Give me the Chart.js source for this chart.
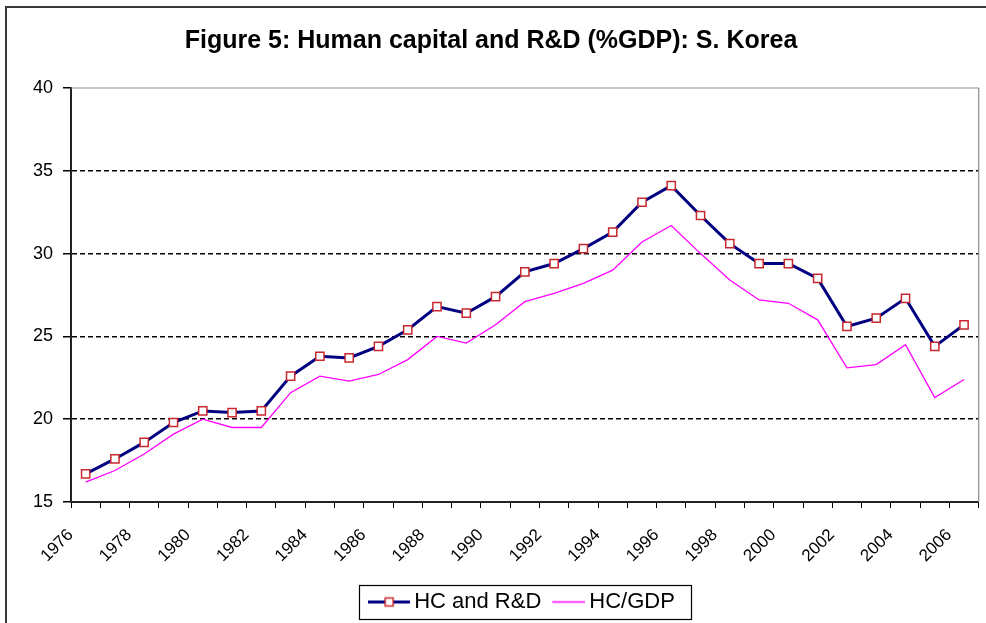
<!DOCTYPE html>
<html>
<head>
<meta charset="utf-8">
<script src="https://cdn.jsdelivr.net/npm/chart.js@4.4.1/dist/chart.umd.min.js"></script>
<style>
  html, body { margin: 0; padding: 0; background: #fff; overflow: hidden; }
  #wrap { position: relative; width: 986px; height: 623px; }
  #frame { position: absolute; left: 5px; top: 6px; width: 1000px; height: 700px; border: 2px solid #3a3a3a; box-sizing: border-box; }
  #chart { position: absolute; left: 0; top: 0; }
</style>
</head>
<body>
<div id="wrap">
  <div id="frame"></div>
  <canvas id="chart" width="986" height="623"></canvas>
</div>
<script>
// years on the category axis
const years = [
  '1976','1977','1978','1979','1980','1981','1982','1983','1984','1985','1986',
  '1987','1988','1989','1990','1991','1992','1993','1994','1995','1996',
  '1997','1998','1999','2000','2001','2002','2003','2004','2005','2006'
];

// HC and R&D (%GDP)
const hcRd = [
  16.7, 17.6, 18.6, 19.8, 20.5, 20.4, 20.5, 22.6, 23.8, 23.7, 24.4,
  25.4, 26.8, 26.4, 27.4, 28.9, 29.4, 30.3, 31.3, 33.1, 34.1,
  32.3, 30.6, 29.4, 29.4, 28.5, 25.6, 26.1, 27.3, 24.4, 25.7
];

// HC/GDP
const hcGdp = [
  16.2, 16.9, 17.9, 19.1, 20.0, 19.5, 19.5, 21.6, 22.6, 22.3, 22.7,
  23.6, 25.0, 24.6, 25.7, 27.1, 27.6, 28.2, 29.0, 30.7, 31.7,
  30.0, 28.4, 27.2, 27.0, 26.0, 23.1, 23.3, 24.5, 21.3, 22.4
];

const yTicks = [15, 20, 25, 30, 35, 40];

const NAVY = '#000080';
const MARKER = '#c8282d';
const PINK = '#ff00ff';
const FONT = 'Liberation Sans, Arial, sans-serif';
const LEG_PAD = 9;

// small legend symbols: line with square marker, plain (shorter) line
function legendSymbol(color, width, withMarker, from) {
  const c = document.createElement('canvas');
  c.width = 42; c.height = 17;
  const g = c.getContext('2d');
  g.strokeStyle = color;
  g.lineWidth = width;
  g.beginPath(); g.moveTo(from, 8.5); g.lineTo(42, 8.5); g.stroke();
  if (withMarker) {
    g.fillStyle = '#fff';
    g.fillRect(17, 4.5, 8, 8);
    g.strokeStyle = MARKER;
    g.lineWidth = 1.5;
    g.strokeRect(17, 4.5, 8, 8);
  }
  return c;
}
const symbols = [legendSymbol(NAVY, 3, true, 0), legendSymbol(PINK, 1.5, false, 9)];

const frameBits = {
  id: 'frameBits',
  afterLayout(chart) {
    const lg = chart.legend;
    lg.left += 34; lg.right += 34;
  },
  beforeDatasetsDraw(chart) {
    const {ctx, chartArea: a} = chart;
    ctx.save();
    ctx.strokeStyle = '#8c8c8c';
    ctx.lineWidth = 1.2;
    ctx.beginPath();
    ctx.moveTo(a.left, a.top); ctx.lineTo(a.right, a.top); ctx.lineTo(a.right, a.bottom);
    ctx.stroke();
    ctx.restore();
  },
  afterDraw(chart) {
    const {ctx} = chart;
    const lg = chart.legend;
    const x1 = (lg.left + LEG_PAD + lg.right - lg.lineWidths[0]) / 2;
    ctx.save();
    ctx.strokeStyle = '#000';
    ctx.lineWidth = 1.2;
    ctx.strokeRect(Math.round(x1 - 16) + 0.5, Math.round(lg.top + 3) + 0.5, 332, 34);
    ctx.restore();
  }
};

new Chart(document.getElementById('chart'), {
  type: 'line',
  data: {
    labels: years,
    datasets: [
      {
        label: 'HC and R&D',
        data: hcRd,
        borderColor: NAVY,
        borderWidth: 3,
        pointStyle: 'rect',
        pointRadius: 5.8,
        pointBorderWidth: 1.5,
        pointBorderColor: MARKER,
        pointBackgroundColor: '#fff',
        tension: 0,
      },
      {
        label: 'HC/GDP',
        data: hcGdp,
        borderColor: PINK,
        borderWidth: 1.3,
        pointRadius: 0,
        tension: 0,
      },
    ],
  },
  options: {
    responsive: false,
    animation: false,
    layout: { padding: { left: 0, right: 4, top: 0, bottom: 0 } },
    plugins: {
      title: {
        display: true,
        text: 'Figure 5: Human capital and R&D (%GDP): S. Korea',
        color: '#000',
        font: { family: FONT, size: 25, weight: 'bold' },
        padding: { top: 26, bottom: 32 },
      },
      legend: {
        position: 'bottom',
        labels: {
          color: '#000',
          font: { family: FONT, size: 22 },
          padding: LEG_PAD,
          usePointStyle: true,
          pointStyleWidth: 28,
          generateLabels(chart) {
            return chart.data.datasets.map((ds, i) => ({
              text: ds.label,
              datasetIndex: i,
              pointStyle: symbols[i],
              fillStyle: 'transparent',
              strokeStyle: 'transparent',
              lineWidth: 0,
              fontColor: '#000',
              hidden: false,
            }));
          },
        },
      },
      tooltip: { enabled: false },
    },
    scales: {
      x: {
        offset: true,
        grid: { offset: true, drawOnChartArea: false, color: '#000', tickLength: 6 },
        border: { color: '#222', width: 2 },
        ticks: {
          color: '#000',
          font: { family: FONT, size: 17 },
          autoSkip: false,
          minRotation: 45,
          maxRotation: 45,
          padding: 17,
          labelOffset: -15,
          callback(v, i) { return i % 2 === 0 ? years[i] : ''; },
        },
        afterFit(scale) { scale.height = 80; scale.paddingRight = 0; },
      },
      y: {
        min: 15,
        max: 40,
        afterBuildTicks(scale) { scale.ticks = yTicks.map(v => ({ value: v })); },
        grid: {
          color: c => (c.tick && c.tick.value > 15 && c.tick.value < 40) ? '#000' : 'rgba(0,0,0,0)',
          tickColor: '#000',
          lineWidth: 1.5,
          tickLength: 8,
        },
        border: { color: '#222', width: 2, dash: [5, 3] },
        ticks: {
          color: '#000',
          font: { family: FONT, size: 18 },
          padding: 10,
        },
        afterFit(scale) { scale.width = 71; },
      },
    },
  },
  plugins: [frameBits],
});
</script>
</body>
</html>
